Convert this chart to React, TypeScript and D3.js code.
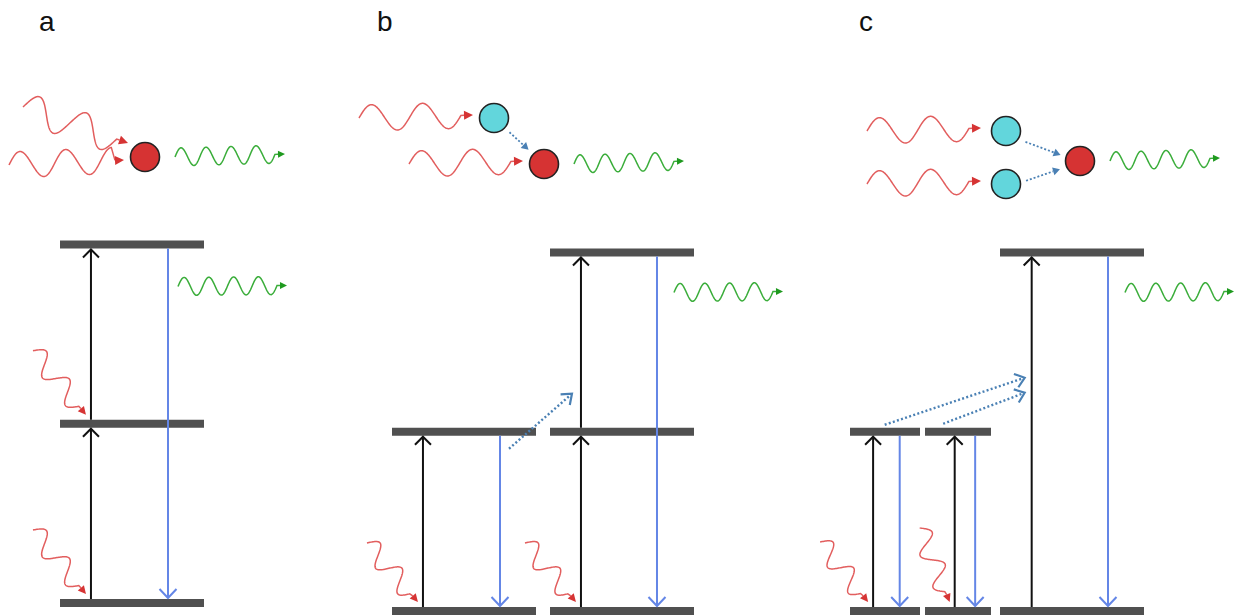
import React from "react";
import * as d3 from "d3";

const W = 1239;
const H = 615;

// panel labels
const panels = ["a", "b", "c"];

// energy levels (E: 0 ground, 1 intermediate / sensitizer, 2 emitting)
const levels = [
  { panel: "a", col: 0, E: 0 },
  { panel: "a", col: 0, E: 1 },
  { panel: "a", col: 0, E: 2 },
  { panel: "b", col: 0, E: 0 },
  { panel: "b", col: 0, E: 1 },
  { panel: "b", col: 1, E: 0 },
  { panel: "b", col: 1, E: 1 },
  { panel: "b", col: 1, E: 2 },
  { panel: "c", col: 0, E: 0 },
  { panel: "c", col: 0, E: 1 },
  { panel: "c", col: 1, E: 0 },
  { panel: "c", col: 1, E: 1 },
  { panel: "c", col: 2, E: 0 },
  { panel: "c", col: 2, E: 2 },
];

// upward (absorption) arrows; pump = red photon at the base
const absorptions = [
  { panel: "a", col: 0, from: 0, to: 1, pump: true },
  { panel: "a", col: 0, from: 1, to: 2, pump: true },
  { panel: "b", col: 0, from: 0, to: 1, pump: true },
  { panel: "b", col: 1, from: 0, to: 1, pump: true },
  { panel: "b", col: 1, from: 1, to: 2, pump: false },
  { panel: "c", col: 0, from: 0, to: 1, pump: true },
  { panel: "c", col: 1, from: 0, to: 1, pump: true },
  { panel: "c", col: 2, from: 0, to: 2, pump: false },
];

// downward (emission) arrows; photon = green photon emitted
const emissions = [
  { panel: "a", col: 0, from: 2, to: 0, photon: true },
  { panel: "b", col: 0, from: 1, to: 0, photon: false },
  { panel: "b", col: 1, from: 2, to: 0, photon: true },
  { panel: "c", col: 0, from: 1, to: 0, photon: false },
  { panel: "c", col: 1, from: 1, to: 0, photon: false },
  { panel: "c", col: 2, from: 2, to: 0, photon: true },
];

// energy transfer between columns (dotted)
const transfers = [
  { panel: "b", fromCol: 0, toCol: 1 },
  { panel: "c", fromCol: 0, toCol: 2 },
  { panel: "c", fromCol: 1, toCol: 2 },
];

// top cartoon: ions (kind) and their incoming photons
const ions = [
  { panel: "a", kind: "emitter", photons: 2 },
  { panel: "b", kind: "sensitizer", photons: 1 },
  { panel: "b", kind: "emitter", photons: 1 },
  { panel: "c", kind: "sensitizer", photons: 1 },
  { panel: "c", kind: "sensitizer", photons: 1 },
  { panel: "c", kind: "emitter", photons: 0 },
];

// ---------- layout ----------
const columnX: Record<string, number[][]> = {
  a: [[60, 204]],
  b: [[392, 536], [550, 694]],
  c: [[850, 920], [925, 991], [1000, 1144]],
};
const upFrac: Record<string, number[]> = { a: [0.215], b: [0.215, 0.215], c: [0.33, 0.45, 0.22] };
const downFrac: Record<string, number[]> = { a: [0.75], b: [0.75, 0.743], c: [0.71, 0.76, 0.75] };
const yRange: Record<string, number[]> = { a: [603, 244.5], b: [611, 252.5], c: [611, 252.5] };
const labelX: Record<string, number> = { a: 39, b: 377, c: 859 };
const ionPos = [
  [145, 157],
  [494, 118],
  [544, 164],
  [1006, 131],
  [1006, 184],
  [1080, 161],
];
const pumpOffset: Record<string, number[][]> = {
  a: [[-53, -64], [-53, -64]],
  b: [[-51, -59], [-51, -59]],
  c: [[-48, -60], [-30, -74]],
};
// transfer start/end offsets relative to (source down arrow, level) and (target up arrow, level)
const transferOffsets = [
  { s: [9, 17], e: [-9, -38] },
  { s: [-15, -7], e: [-7, -54] },
  { s: [-32, -8], e: [-7, -39] },
];

const BAR = 8;
const C = {
  bar: "#505050",
  up: "#111111",
  down: "#6486e6",
  dotted: "#4a80b4",
  red: "#e25e5e",
  redHead: "#d63434",
  green: "#3aad3a",
  greenHead: "#1f9a1f",
  ionRed: "#d63333",
  ionCyan: "#62d6dc",
};

const yScale = (p: string) => d3.scaleLinear().domain([0, 2]).range(yRange[p]);
const xScale = (p: string, col: number) => d3.scaleLinear().domain([0, 1]).range(columnX[p][col]);

function chevron(tx: number, ty: number, ux: number, uy: number, len: number, half: number) {
  const bx = tx - ux * len;
  const by = ty - uy * len;
  const px = -uy;
  const py = ux;
  return `M${bx + px * half},${by + py * half}L${tx},${ty}L${bx - px * half},${by - py * half}`;
}

const line = d3.line();

function wave(x0: number, y0: number, x1: number, y1: number, periods: number, amp: number, head: number) {
  const dx = x1 - x0;
  const dy = y1 - y0;
  const L = Math.hypot(dx, dy);
  const ux = dx / L;
  const uy = dy / L;
  const px = uy;
  const py = -ux;
  const Lw = L - head - 3;
  const pts: [number, number][] = d3.range(0, Lw + 0.01, 0.5).map((s) => {
    const o = amp * Math.sin((2 * Math.PI * periods * s) / Lw);
    return [x0 + ux * s + px * o, y0 + uy * s + py * o];
  });
  const bx = x0 + ux * (L - head);
  const by = y0 + uy * (L - head);
  pts.push([bx, by]);
  const hw = head * 0.5;
  const headPts = [
    [x1, y1],
    [bx - uy * hw, by + ux * hw],
    [bx + uy * hw, by - ux * hw],
  ];
  return { d: line(pts) as string, head: "M" + headPts.map((p) => p.join(",")).join("L") + "Z" };
}

function Photon({ x0, y0, x1, y1, periods, amp, head, color, headColor }: any) {
  const w = wave(x0, y0, x1, y1, periods, amp, head);
  return (
    <g>
      <path d={w.d} fill="none" stroke={color} strokeWidth={1.5} />
      <path d={w.head} fill={headColor} />
    </g>
  );
}

export default function App() {
  const marks: React.ReactNode[] = [];

  // levels
  levels.forEach((l, i) => {
    const x = xScale(l.panel, l.col);
    const y = yScale(l.panel)(l.E);
    marks.push(
      <rect key={"lv" + i} x={x(0)} y={y - BAR / 2} width={x(1) - x(0)} height={BAR} fill={C.bar} />
    );
  });

  // absorption arrows + pump photons
  let pumpIdx: Record<string, number> = { a: 0, b: 0, c: 0 };
  absorptions.forEach((t, i) => {
    const x = xScale(t.panel, t.col)(upFrac[t.panel][t.col]);
    const y = yScale(t.panel);
    const y0 = y(t.from) - BAR / 2;
    const y1 = y(t.to) + BAR / 2;
    marks.push(
      <g key={"ab" + i} fill="none" stroke={C.up} strokeWidth={2}>
        <line x1={x} y1={y0} x2={x} y2={y1 + 1} />
        <path d={chevron(x, y1 + 1, 0, -1, 8, 8)} strokeWidth={2} />
      </g>
    );
    if (t.pump) {
      const k = pumpIdx[t.panel]++;
      const off = pumpOffset[t.panel][k];
      const tx = x - 5;
      const ty = y(t.from) - 9;
      marks.push(
        <Photon key={"pp" + i} x0={tx + off[0]} y0={ty + off[1]} x1={tx} y1={ty}
          periods={2} amp={10} head={8} color={C.red} headColor={C.redHead} />
      );
    }
  });

  // emission arrows + green photons
  emissions.forEach((t, i) => {
    const x = xScale(t.panel, t.col)(downFrac[t.panel][t.col]);
    const y = yScale(t.panel);
    const y0 = y(t.from) + BAR / 2;
    const y1 = y(t.to) - BAR / 2;
    marks.push(
      <g key={"em" + i} fill="none" stroke={C.down} strokeWidth={2}>
        <line x1={x} y1={y0} x2={x} y2={y1 - 1} />
        <path d={chevron(x, y1 - 1, 0, 1, 9, 8.5)} />
      </g>
    );
    if (t.photon) {
      const sx = x + (t.panel === "a" ? 10 : 17);
      const sy = y(t.from) + (t.panel === "a" ? 42 : 40);
      marks.push(
        <Photon key={"ep" + i} x0={sx} y0={sy} x1={sx + 109} y1={sy - 1}
          periods={4} amp={9} head={7} color={C.green} headColor={C.greenHead} />
      );
    }
  });

  // energy transfer (dotted)
  transfers.forEach((t, i) => {
    const y = yScale(t.panel)(1);
    const sx = xScale(t.panel, t.fromCol)(downFrac[t.panel][t.fromCol]);
    const ex = xScale(t.panel, t.toCol)(upFrac[t.panel][t.toCol]);
    const o = transferOffsets[i];
    const x0 = sx + o.s[0];
    const y0 = y + o.s[1];
    const x1 = ex + o.e[0];
    const y1 = y + o.e[1];
    const L = Math.hypot(x1 - x0, y1 - y0);
    const ux = (x1 - x0) / L;
    const uy = (y1 - y0) / L;
    marks.push(
      <g key={"tr" + i} fill="none" stroke={C.dotted} strokeWidth={2.4}>
        <line x1={x0} y1={y0} x2={x1 - ux * 1.5} y2={y1 - uy * 1.5} strokeDasharray="2 2.3" />
        <path d={chevron(x1, y1, ux, uy, 9, 7)} strokeWidth={2.2} />
      </g>
    );
  });

  // top cartoon
  const R = 14.5;
  ions.forEach((ion, i) => {
    const [cx, cy] = ionPos[i];
    if (ion.photons === 2) {
      marks.push(
        <Photon key={"ip1" + i} x0={cx - 136} y0={cy + 8} x1={cx - 21} y1={cy + 3}
          periods={2.25} amp={13} head={9} color={C.red} headColor={C.redHead} />,
        <Photon key={"ip2" + i} x0={cx - 122} y0={cy - 50} x1={cx - 17} y1={cy - 14}
          periods={2} amp={15} head={9} color={C.red} headColor={C.redHead} />
      );
    } else if (ion.photons === 1) {
      const tx = ion.panel === "c" ? cx - 25 : cx - 21;
      marks.push(
        <Photon key={"ip" + i} x0={tx - 114} y0={cy} x1={tx} y1={cy - 3}
          periods={2} amp={13} head={9} color={C.red} headColor={C.redHead} />
      );
    }
    if (ion.kind === "emitter") {
      marks.push(
        <Photon key={"go" + i} x0={cx + 30} y0={cy} x1={cx + 140} y1={cy - 3}
          periods={4} amp={9} head={7} color={C.green} headColor={C.greenHead} />
      );
    }
  });
  // sensitizer -> emitter transfer in the cartoon
  ions.forEach((ion, i) => {
    if (ion.kind !== "sensitizer") return;
    const j = ions.findIndex((o) => o.panel === ion.panel && o.kind === "emitter");
    const [sx, sy] = ionPos[i];
    const [ex, ey] = ionPos[j];
    const L = Math.hypot(ex - sx, ey - sy);
    const ux = (ex - sx) / L;
    const uy = (ey - sy) / L;
    const x0 = sx + ux * 21;
    const y0 = sy + uy * 21 + (ion.panel === "c" ? 3 : 0);
    const x1 = ex - ux * 21;
    const y1 = ey - uy * 21 + (ion.panel === "c" ? 2 : 0);
    const hx = x1 - ux * 7;
    const hy = y1 - uy * 7;
    marks.push(
      <g key={"ct" + i}>
        <line x1={x0} y1={y0} x2={hx} y2={hy} stroke={C.dotted} strokeWidth={1.8} strokeDasharray="2 2" />
        <path
          d={`M${x1},${y1}L${hx - uy * 4},${hy + ux * 4}L${hx + uy * 4},${hy - ux * 4}Z`}
          fill={C.dotted}
        />
      </g>
    );
  });
  ions.forEach((ion, i) => {
    const [cx, cy] = ionPos[i];
    marks.push(
      <circle key={"ion" + i} cx={cx} cy={cy} r={R}
        fill={ion.kind === "emitter" ? C.ionRed : C.ionCyan} stroke="#222" strokeWidth={1.6} />
    );
  });

  return (
    <svg width={W} height={H} style={{ position: "absolute", left: 0, top: 0, background: "#fff" }}>
      <rect width={W} height={H} fill="#fff" />
      {panels.map((p) => (
        <text key={p} x={labelX[p]} y={31} fontSize={28} fontFamily="Liberation Sans, Arial, sans-serif" fill="#111">
          {p}
        </text>
      ))}
      {marks}
    </svg>
  );
}
